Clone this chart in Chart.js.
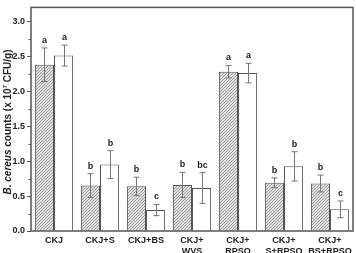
<!DOCTYPE html>
<html>
<head>
<meta charset="utf-8">
<script src="https://cdn.jsdelivr.net/npm/chart.js@4/dist/chart.umd.min.js"></script>
<style>
  html, body { margin: 0; padding: 0; background: #fff; }
  #wrap { width: 356px; height: 253px; }
</style>
</head>
<body>
<div id="wrap"><canvas id="barChart"></canvas></div>
<script>
// Data
var categories = [['CKJ'], ['CKJ+S'], ['CKJ+BS'], ['CKJ+', 'WVS'], ['CKJ+', 'RPSO'], ['CKJ+', 'S+RPSO'], ['CKJ+', 'BS+RPSO']];
var hatchedValues = [2.38, 0.65, 0.64, 0.66, 2.28, 0.69, 0.68];
var hatchedErrors = [0.24, 0.17, 0.13, 0.18, 0.09, 0.07, 0.12];
var openValues = [2.51, 0.95, 0.30, 0.615, 2.26, 0.925, 0.31];
var openErrors = [0.15, 0.20, 0.08, 0.22, 0.14, 0.21, 0.12];
var hatchedLetters = ['a', 'b', 'b', 'b', 'a', 'b', 'b'];
var openLetters = ['a', 'b', 'c', 'bc', 'a', 'b', 'c'];
var yTicks = [0, 0.5, 1.0, 1.5, 2.0, 2.5, 3.0];

// hatch fill for the first series
function makeHatch() {
    var c = document.createElement('canvas');
    c.width = 3; c.height = 3;
    var g = c.getContext('2d');
    g.fillStyle = '#e2e2e2';
    g.fillRect(0, 0, 3, 3);
    g.fillStyle = '#9a9a9a';
    // one-pixel diagonal staircase
    g.fillRect(2, 0, 1, 1);
    g.fillRect(1, 1, 1, 1);
    g.fillRect(0, 2, 1, 1);
    return g.createPattern(c, 'repeat');
}

var ctx = document.getElementById('barChart').getContext('2d');

var errorBars = {
    id: 'errorBars',
    afterDatasetsDraw: function (chart) {
        var c = chart.ctx, y = chart.scales.y;
        var sets = [[hatchedValues, hatchedErrors, hatchedLetters], [openValues, openErrors, openLetters]];
        c.save();
        sets.forEach(function (s, di) {
            var meta = chart.getDatasetMeta(di);
            meta.data.forEach(function (bar, i) {
                var x = Math.round(bar.x) + 0.5;
                var hi = y.getPixelForValue(s[0][i] + s[1][i]);
                var lo = y.getPixelForValue(s[0][i] - s[1][i]);
                c.strokeStyle = '#777';
                c.lineWidth = 1;
                c.beginPath();
                c.moveTo(x, hi); c.lineTo(x, lo);
                c.moveTo(x - 3, hi); c.lineTo(x + 3, hi);
                c.moveTo(x - 3, lo); c.lineTo(x + 3, lo);
                c.stroke();
                c.fillStyle = '#222';
                c.font = 'bold 9px "Liberation Sans", Arial, sans-serif';
                c.textAlign = 'center';
                c.textBaseline = 'bottom';
                c.fillText(s[2][i], x, hi - 3);
            });
        });
        c.restore();
    }
};

var frame = {
    id: 'frame',
    afterDraw: function (chart) {
        var c = chart.ctx, a = chart.chartArea, y = chart.scales.y;
        c.save();
        c.strokeStyle = '#555';
        c.lineWidth = 1.5;
        c.strokeRect(a.left, a.top, a.right - a.left, a.bottom - a.top);
        // minor ticks
        c.lineWidth = 1;
        c.beginPath();
        for (var v = 0.25; v < 3.2; v += 0.5) {
            var py = Math.round(y.getPixelForValue(v)) + 0.5;
            c.moveTo(a.left - 2.5, py); c.lineTo(a.left, py);
        }
        c.stroke();
        // y-axis title, rotated, with italic species name
        c.translate(8, 122);
        c.rotate(-Math.PI / 2);
        c.fillStyle = '#222';
        c.textBaseline = 'middle';
        var fI = 'italic bold 10px "Liberation Sans", Arial, sans-serif';
        var fB = 'bold 10px "Liberation Sans", Arial, sans-serif';
        var fS = 'bold 6px "Liberation Sans", Arial, sans-serif';
        var parts = [['B. cereus', fI, 0], [' counts (x 10', fB, 0], ['7', fS, -3], [' CFU/g)', fB, 0]];
        var total = 0;
        parts.forEach(function (p) { c.font = p[1]; total += c.measureText(p[0]).width; });
        var x = -total / 2;
        c.textAlign = 'left';
        parts.forEach(function (p) {
            c.font = p[1];
            c.fillText(p[0], x, p[2]);
            x += c.measureText(p[0]).width;
        });
        c.restore();
    }
};

new Chart(ctx, {
    type: 'bar',
    data: {
        labels: categories,
        datasets: [{
            data: hatchedValues,
            backgroundColor: makeHatch(),
            borderColor: '#555',
            borderWidth: 1,
            categoryPercentage: 0.83,
            barPercentage: 1.0
        }, {
            data: openValues,
            backgroundColor: '#ffffff',
            borderColor: '#555',
            borderWidth: 1,
            categoryPercentage: 0.83,
            barPercentage: 1.0
        }]
    },
    options: {
        responsive: true,
        maintainAspectRatio: false,
        animation: false,
        layout: { padding: { left: 0, right: 3, top: 4, bottom: 0 } },
        plugins: {
            legend: { display: false },
            tooltip: { enabled: false }
        },
        scales: {
            x: {
                grid: { display: false, drawTicks: false },
                border: { display: false },
                ticks: {
                    color: '#222',
                    padding: 4,
                    maxRotation: 0,
                    autoSkip: false,
                    font: { family: '"Liberation Sans", Arial, sans-serif', size: 9, weight: 'bold', lineHeight: 1.22 }
                },
                afterFit: function (s) { s.height = 22; }
            },
            y: {
                min: 0,
                max: 3.2,
                afterBuildTicks: function (s) {
                    s.ticks = yTicks.map(function (v) { return { value: v }; });
                },
                grid: { drawOnChartArea: false, tickLength: 4, color: '#555' },
                border: { display: false },
                ticks: {
                    color: '#222',
                    padding: 2,
                    callback: function (v) { return Number(v).toFixed(1); },
                    font: { family: '"Liberation Sans", Arial, sans-serif', size: 9, weight: 'bold' }
                },
                afterFit: function (s) { s.width = 31; }
            }
        }
    },
    plugins: [errorBars, frame]
});
</script>
</body>
</html>
